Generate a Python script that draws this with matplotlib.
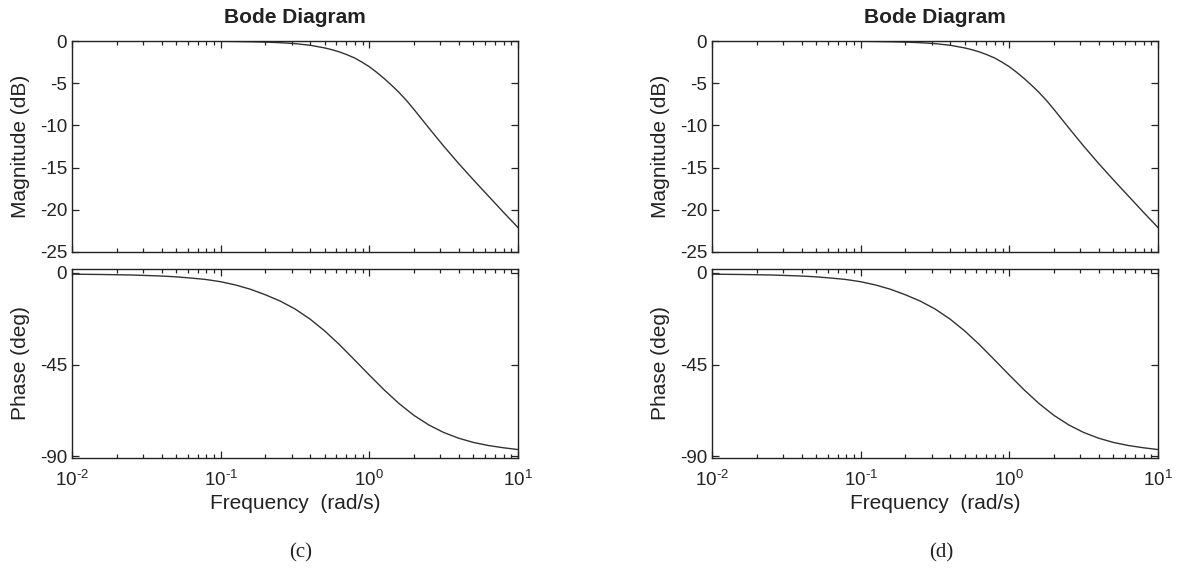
import numpy as np
import matplotlib.pyplot as plt
from matplotlib.ticker import LogLocator, NullFormatter

plt.rcParams['font.family'] = ['Liberation Sans', 'DejaVu Sans']
plt.rcParams['mathtext.fontset'] = 'custom'
plt.rcParams['mathtext.rm'] = 'Liberation Sans'
plt.rcParams['axes.unicode_minus'] = False

# Curvas (log10 de la frecuencia en rad/s)
log_w_mag = [-2.0, -1.8, -1.6, -1.4, -1.2, -1.0, -0.9, -0.8, -0.7, -0.6, -0.5, -0.4,
             -0.3, -0.25, -0.2, -0.15, -0.1, -0.05, 0.0, 0.05, 0.1, 0.15, 0.2, 0.25,
             0.3, 0.35, 0.4, 0.5, 0.6, 0.7, 0.8, 0.9, 1.0]
mag_db = [0.0, 0.0, -0.01, -0.01, -0.02, -0.04, -0.06, -0.09, -0.13, -0.20, -0.31, -0.50,
          -0.82, -1.04, -1.30, -1.63, -2.0, -2.5, -3.05, -3.72, -4.45, -5.25, -6.1, -7.05,
          -8.1, -9.2, -10.3, -12.45, -14.5, -16.45, -18.35, -20.25, -22.1]

log_w_fase = [-2.0, -1.8, -1.6, -1.4, -1.3, -1.2, -1.1, -1.0, -0.9, -0.8, -0.7, -0.6,
              -0.5, -0.4, -0.3, -0.2, -0.1, 0.0, 0.1, 0.2, 0.3, 0.4, 0.5, 0.6, 0.7,
              0.8, 0.9, 1.0]
fase_deg = [-0.6, -0.75, -1.0, -1.5, -1.9, -2.5, -3.2, -4.3, -5.9, -8.0, -10.7, -13.8,
            -17.7, -22.6, -28.5, -35.3, -42.7, -50.2, -57.5, -64.2, -70.0, -74.7, -78.4,
            -81.2, -83.3, -84.8, -85.9, -86.8]

paneles = ['(c)', '(d)']
mag_ticks = [0, -5, -10, -15, -20, -25]
fase_ticks = [0, -45, -90]
freq_ticks = [1e-2, 1e-1, 1e0, 1e1]
freq_labels = [r'$10^{\text{-2}}$', r'$10^{\text{-1}}$', r'$10^{\text{0}}$', r'$10^{\text{1}}$']

W, H = 1180, 588
fig = plt.figure(figsize=(W / 100, H / 100), dpi=100)
tinta = '#222222'


def estilo(ax):
    ax.set_xscale('log')
    ax.set_xlim(1e-2, 1e1)
    ax.tick_params(which='both', direction='in', top=True, right=True,
                   labelsize=13.5, colors=tinta, width=0.9)
    ax.tick_params(which='major', length=5)
    ax.tick_params(which='minor', length=3)
    ax.tick_params(axis='x', pad=8)
    ax.set_xticks(freq_ticks)
    ax.xaxis.set_minor_locator(LogLocator(base=10, subs=np.arange(2, 10), numticks=10))
    for s in ax.spines.values():
        s.set_linewidth(1.0)
        s.set_color(tinta)


for i, etiqueta in enumerate(paneles):
    x0 = [72, 712][i]
    ancho = 446
    ax_m = fig.add_axes([x0 / W, 1 - 252 / H, ancho / W, 211 / H])
    ax_p = fig.add_axes([x0 / W, 1 - 457.7 / H, ancho / W, 188.4 / H])

    ax_m.plot(10 ** np.array(log_w_mag), mag_db, color='#333333', lw=1.0)
    ax_p.plot(10 ** np.array(log_w_fase), fase_deg, color='#333333', lw=1.0)

    for ax in (ax_m, ax_p):
        estilo(ax)

    ax_m.set_ylim(-25, 0)
    ax_m.set_yticks(mag_ticks)
    ax_m.set_yticklabels([str(t) for t in mag_ticks])
    ax_m.xaxis.set_major_formatter(NullFormatter())
    ax_m.set_ylabel('Magnitude (dB)', fontsize=15, color=tinta)
    ax_m.yaxis.set_label_coords(-0.095, 0.5)
    ax_m.set_title('Bode Diagram', fontsize=15, fontweight='bold', color=tinta, pad=13)

    ax_p.set_ylim(-90.8, 1.8)
    ax_p.set_yticks(fase_ticks)
    ax_p.set_yticklabels([str(t) for t in fase_ticks])
    ax_p.set_xticklabels(freq_labels)
    ax_p.set_ylabel('Phase (deg)', fontsize=15, color=tinta)
    ax_p.yaxis.set_label_coords(-0.095, 0.5)
    ax_p.set_xlabel('Frequency  (rad/s)', fontsize=15, color=tinta, labelpad=3)

    fig.text((x0 + ancho / 2 + 6) / W, 1 - 553 / H, etiqueta, ha='center', va='center',
             fontsize=15, family='Liberation Serif', color=tinta)

fig.savefig('out.png', dpi=100)
